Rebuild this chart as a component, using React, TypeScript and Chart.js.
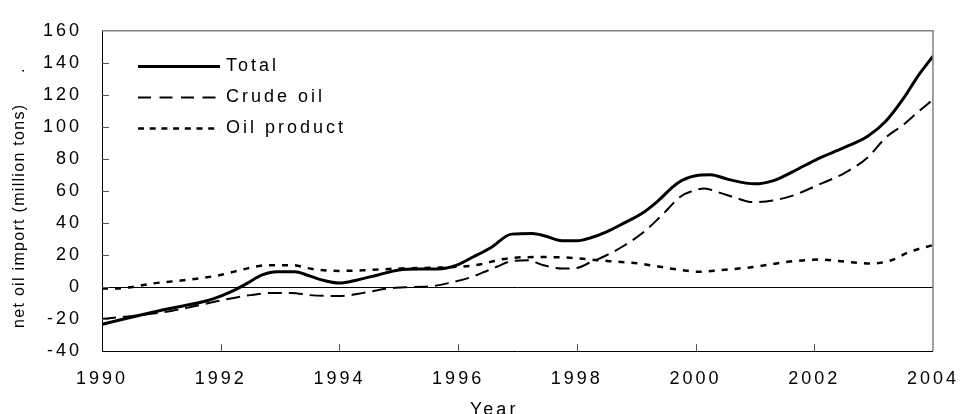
import React, { useEffect, useRef } from "react";
import { Chart, registerables } from "chart.js";

Chart.register(...registerables);

// ---- data ----
const TOTAL_YEARS = [1990, 1991, 1991.75, 1992, 1992.25, 1992.45, 1992.7, 1992.95, 1993.25, 1993.45, 1993.7, 1994.0, 1994.3, 1994.65, 1995.0, 1995.35, 1995.65, 1996.0, 1996.25, 1996.55, 1996.9, 1997.25, 1997.45, 1997.75, 1998.0, 1998.25, 1998.5, 1998.8, 1999.1, 1999.35, 1999.7, 2000.0, 2000.25, 2000.55, 2001.0, 2001.3, 2001.65, 2002.05, 2002.5, 2002.9, 2003.2, 2003.5, 2003.75, 2004.0];
const TOTAL_VALUES = [-23.3, -14.5, -8.8, -5.7, -1.7, 2.4, 7.5, 9.5, 9.5, 7.5, 4.4, 2.4, 4.4, 7.5, 10.6, 11.2, 11.2, 14.0, 18.7, 24.5, 33.0, 33.4, 32.0, 28.9, 28.9, 30.9, 34.4, 40.0, 46.0, 53.2, 65.0, 69.5, 70.1, 67.2, 64.4, 66.3, 72.2, 79.9, 87.0, 94.1, 103.3, 117.6, 131.9, 144.1];

const CRUDE_YEARS = [1990, 1991, 1991.45, 1992, 1992.5, 1992.9, 1993.2, 1993.5, 1994.0, 1994.4, 1994.8, 1995.1, 1995.55, 1995.9, 1996.2, 1996.45, 1996.65, 1996.9, 1997.2, 1997.4, 1997.75, 1997.95, 1998.25, 1998.5, 1998.8, 1999.15, 1999.45, 1999.75, 2000.0, 2000.15, 2000.4, 2000.7, 2000.95, 2001.3, 2001.65, 2002.05, 2002.5, 2002.9, 2003.2, 2003.5, 2003.75, 2004.0];
const CRUDE_VALUES = [-20.0, -16.0, -12.9, -8.4, -5.1, -3.7, -3.7, -5.1, -5.7, -3.7, -1.0, -0.2, 0.4, 3.0, 5.9, 9.5, 12.6, 16.1, 16.7, 14.0, 11.6, 11.6, 15.7, 19.8, 25.9, 35.0, 45.5, 56.5, 60.5, 61.5, 58.9, 55.4, 53.0, 54.0, 57.2, 63.5, 71.0, 80.9, 93.1, 101.3, 109.4, 117.0];

const PRODUCT_YEARS = [1990, 1990.35, 1990.9, 1991.45, 1992, 1992.45, 1992.8, 1993.2, 1993.55, 1994.0, 1994.5, 1995.05, 1995.6, 1996.2, 1996.45, 1996.65, 1996.9, 1997.4, 1997.95, 1998.35, 1998.7, 1999.05, 1999.4, 1999.75, 2000.05, 2000.45, 2001.0, 2001.55, 2002.1, 2002.55, 2002.95, 2003.3, 2003.6, 2004.0];
const PRODUCT_VALUES = [-1.0, -0.7, 2.4, 4.5, 7.5, 11.6, 13.6, 13.6, 11.2, 10.0, 10.6, 11.6, 12.0, 13.2, 14.6, 16.7, 18.1, 18.7, 18.1, 16.7, 15.7, 14.6, 12.6, 10.6, 9.5, 10.6, 12.6, 15.7, 17.1, 15.7, 14.6, 16.7, 21.8, 26.2];

const SERIES_LABELS = ["Total", "Crude oil", "Oil product"];
const X_MIN = 1990;
const X_MAX = 2004;
const X_STEP = 2;
const Y_MIN = -40;
const Y_MAX = 160;
const Y_STEP = 20;
const X_TITLE = "Year";
const Y_TITLE = "net oil import (million tons)";

const FONT = '"Liberation Sans", Arial, sans-serif';
const SPACING = "3px";

const toPoints = (xs: number[], ys: number[]) => xs.map((x, i) => ({ x, y: ys[i] }));

const decorPlugin = {
  id: "decor",
  beforeDraw(chart: any) {
    chart.ctx.letterSpacing = SPACING;
  },
  beforeDatasetsDraw(chart: any) {
    const { ctx, chartArea: a, scales } = chart;
    const y0 = Math.round(scales.y.getPixelForValue(0)) + 0.5;
    ctx.save();
    ctx.strokeStyle = "#000";
    ctx.lineWidth = 1;
    ctx.beginPath();
    ctx.moveTo(a.left, y0);
    ctx.lineTo(a.right, y0);
    ctx.stroke();
    ctx.restore();
  },
  afterDraw(chart: any) {
    const { ctx, chartArea: a, scales } = chart;
    ctx.save();
    ctx.letterSpacing = "0px";
    // gray top/right frame
    ctx.strokeStyle = "#808080";
    ctx.lineWidth = 1.5;
    ctx.beginPath();
    ctx.moveTo(a.left, a.top);
    ctx.lineTo(a.right, a.top);
    ctx.lineTo(a.right, a.bottom);
    ctx.stroke();
    // inner tick marks
    ctx.strokeStyle = "#555";
    ctx.lineWidth = 1;
    ctx.beginPath();
    for (let v = Y_MIN + Y_STEP; v < Y_MAX; v += Y_STEP) {
      const py = Math.round(scales.y.getPixelForValue(v)) + 0.5;
      ctx.moveTo(a.left, py);
      ctx.lineTo(a.left + 7, py);
    }
    for (let v = X_MIN + X_STEP; v < X_MAX; v += X_STEP) {
      const px = Math.round(scales.x.getPixelForValue(v)) + 0.5;
      ctx.moveTo(px, a.bottom);
      ctx.lineTo(px, a.bottom - 7);
    }
    ctx.stroke();

    // legend
    const rows = [66.5, 97.5, 128.5];
    chart.data.datasets.forEach((ds: any, i: number) => {
      const ry = rows[i];
      ctx.save();
      ctx.strokeStyle = ds.borderColor;
      ctx.lineWidth = ds.borderWidth;
      ctx.setLineDash(ds.legendDash || []);
      ctx.beginPath();
      ctx.moveTo(138, ry);
      ctx.lineTo(220, ry);
      ctx.stroke();
      ctx.restore();
      ctx.save();
      ctx.letterSpacing = SPACING;
      ctx.fillStyle = "#000";
      ctx.font = `18px ${FONT}`;
      ctx.textAlign = "left";
      ctx.textBaseline = "alphabetic";
      ctx.fillText(ds.label, 226, ry + 4);
      ctx.restore();
    });

    // x title
    ctx.save();
    ctx.letterSpacing = SPACING;
    ctx.fillStyle = "#000";
    ctx.font = `18px ${FONT}`;
    ctx.textAlign = "left";
    ctx.textBaseline = "alphabetic";
    ctx.fillText(X_TITLE, 470, 415);
    ctx.restore();

    // y title
    ctx.save();
    ctx.translate(23.5, 328);
    ctx.rotate(-Math.PI / 2);
    ctx.letterSpacing = "1.3px";
    ctx.fillStyle = "#000";
    ctx.font = `16px ${FONT}`;
    ctx.textAlign = "left";
    ctx.textBaseline = "alphabetic";
    ctx.fillText(Y_TITLE, 0, 0);
    ctx.letterSpacing = "0px";
    ctx.fillText(".", 255, 0);
    ctx.restore();

    ctx.restore();
  },
};

export default function App() {
  const ref = useRef<HTMLCanvasElement | null>(null);
  useEffect(() => {
    if (!ref.current) return;
    const chart = new Chart(ref.current, {
      type: "line",
      data: {
        datasets: [
          {
            label: SERIES_LABELS[0],
            data: toPoints(TOTAL_YEARS, TOTAL_VALUES),
            borderColor: "#000",
            borderWidth: 3,
            pointRadius: 0,
            cubicInterpolationMode: "monotone",
            legendDash: [],
          } as any,
          {
            label: SERIES_LABELS[1],
            data: toPoints(CRUDE_YEARS, CRUDE_VALUES),
            borderColor: "#000",
            borderWidth: 2,
            borderDash: [14, 7],
            pointRadius: 0,
            cubicInterpolationMode: "monotone",
            legendDash: [13, 8.5],
          } as any,
          {
            label: SERIES_LABELS[2],
            data: toPoints(PRODUCT_YEARS, PRODUCT_VALUES),
            borderColor: "#000",
            borderWidth: 2.5,
            borderDash: [6, 7],
            pointRadius: 0,
            cubicInterpolationMode: "monotone",
            legendDash: [6, 5.7],
          } as any,
        ],
      },
      options: {
        animation: false,
        responsive: true,
        maintainAspectRatio: false,
        layout: { padding: { left: 0, top: 24, right: 27, bottom: 0 } },
        plugins: { legend: { display: false }, tooltip: { enabled: false } },
        scales: {
          x: {
            type: "linear",
            min: X_MIN,
            max: X_MAX,
            afterFit: (s: any) => {
              s.height = 63;
            },
            grid: { display: false, drawTicks: false },
            border: { display: true, color: "#000", width: 1 },
            ticks: {
              stepSize: X_STEP,
              padding: 17,
              maxRotation: 0,
              color: "#000",
              font: { family: FONT, size: 18 },
              callback: (v: any) => String(v),
            },
          },
          y: {
            min: Y_MIN,
            max: Y_MAX,
            afterFit: (s: any) => {
              s.width = 102;
            },
            grid: { display: false, drawTicks: false },
            border: { display: true, color: "#000", width: 1 },
            ticks: {
              stepSize: Y_STEP,
              padding: 20,
              color: "#000",
              font: { family: FONT, size: 18 },
              callback: (v: any) => String(v),
            },
          },
        },
      },
      plugins: [decorPlugin],
    });
    return () => chart.destroy();
  }, []);
  return (
    <div style={{ position: "absolute", left: 0, top: 0, width: 970, height: 414, background: "#fff" }}>
      <canvas ref={ref} />
    </div>
  );
}
